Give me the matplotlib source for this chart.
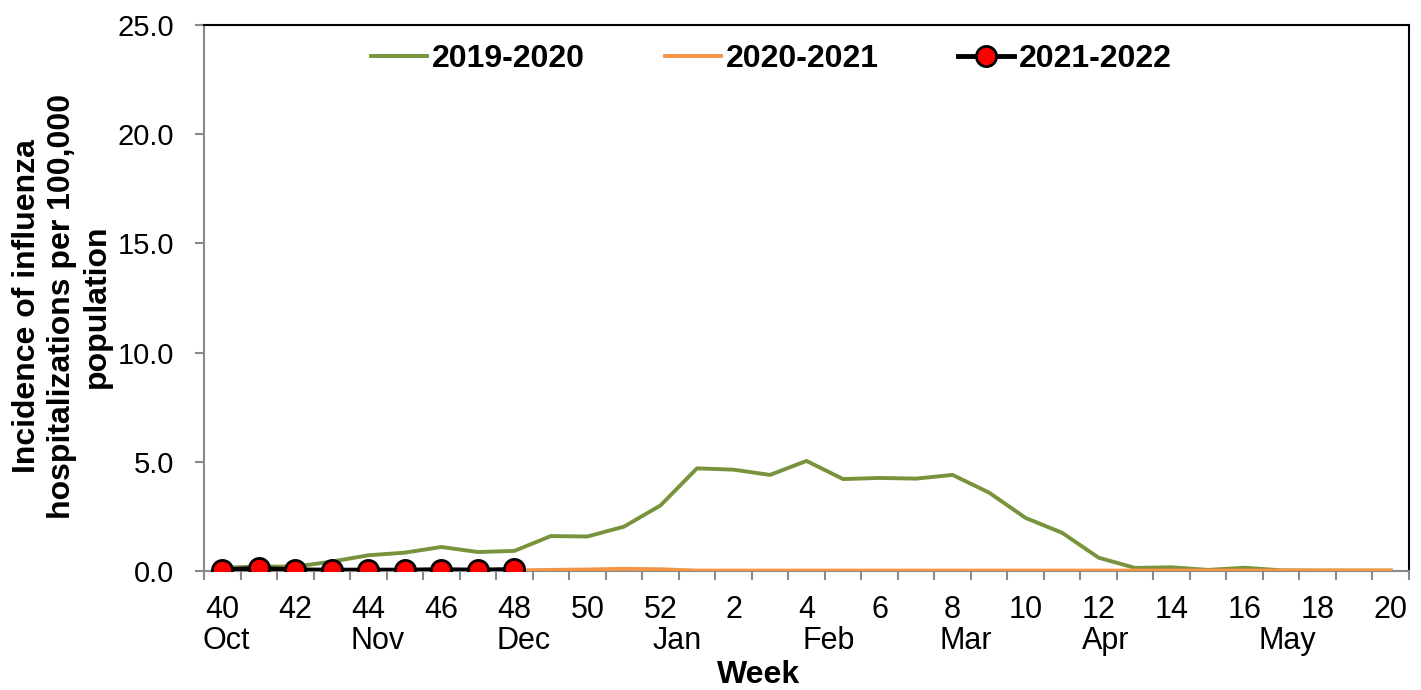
import matplotlib
matplotlib.use("Agg")
import matplotlib.pyplot as plt
import matplotlib.transforms as mtransforms

plt.rcParams['font.family'] = ['Liberation Sans', 'DejaVu Sans']

weeks = [40, 41, 42, 43, 44, 45, 46, 47, 48, 49, 50, 51, 52,
         1, 2, 3, 4, 5, 6, 7, 8, 9, 10, 11, 12, 13, 14, 15, 16, 17, 18, 19, 20]
tick_labels = [str(w) if w % 2 == 0 else "" for w in weeks]

s2019_2020 = [0.15, 0.2, 0.2, 0.43, 0.72, 0.84, 1.1, 0.87, 0.92, 1.6, 1.58, 2.03, 3.0,
              4.7, 4.64, 4.4, 5.04, 4.21, 4.26, 4.23, 4.4, 3.59, 2.43, 1.75, 0.61,
              0.14, 0.17, 0.05, 0.15, 0.03, 0.02, 0.02, 0.02]
s2020_2021 = [0.02, 0.02, 0.02, 0.02, 0.02, 0.02, 0.02, 0.02, 0.03, 0.05, 0.07, 0.1, 0.08,
              0.02, 0.02, 0.02, 0.02, 0.02, 0.02, 0.02, 0.02, 0.02, 0.02, 0.02, 0.02,
              0.02, 0.02, 0.02, 0.02, 0.02, 0.02, 0.02, 0.02]
s2021_2022 = [0.05, 0.12, 0.05, 0.04, 0.04, 0.04, 0.06, 0.04, 0.07]

months = ["Oct", "Nov", "Dec", "Jan", "Feb", "Mar", "Apr", "May"]
month_pos = [0.1, 4.24, 8.24, 12.46, 16.6, 20.35, 24.2, 29.17]

fig = plt.figure(figsize=(14.21, 6.90), dpi=100)
ax = fig.add_axes([204/1421, 1-571/690, (1409-204)/1421, (571-25)/690])

x = list(range(len(weeks)))
ax.plot(x, s2019_2020, color='#77933C', lw=2.8, label='2019-2020', zorder=2)
ax.plot(x, s2020_2021, color='#F79646', lw=2.8, label='2020-2021', zorder=3)
ax.plot(x[:len(s2021_2022)], s2021_2022, color='black', lw=3.5, marker='o',
        markersize=14.5, markerfacecolor='#FF0000', markeredgecolor='black',
        markeredgewidth=2.0, label='2021-2022', zorder=4)

ax.set_xlim(-0.5, len(weeks) - 0.5)
ax.set_ylim(0, 25)
ax.set_yticks([0, 5, 10, 15, 20, 25])
ax.set_yticklabels([f"{v:.1f}" for v in [0, 5, 10, 15, 20, 25]], fontsize=21)
ax.set_xticks(x)
ax.set_xticklabels(tick_labels, fontsize=22)
ax.set_xticks([i - 0.5 for i in range(len(weeks) + 1)], minor=True)
ax.tick_params(axis='x', which='major', length=0, pad=17)
ax.tick_params(axis='x', which='minor', length=6.5, width=1.5, color='#898989', direction='out')
ax.tick_params(axis='y', length=6.5, width=1.5, color='#898989', pad=15)

for side in ['left', 'bottom']:
    ax.spines[side].set_color('#898989')
    ax.spines[side].set_linewidth(1.5)
for side in ['top', 'right']:
    ax.spines[side].set_color('black')
    ax.spines[side].set_linewidth(1.5)

trans = mtransforms.blended_transform_factory(ax.transData, fig.transFigure)
for m, p in zip(months, month_pos):
    ax.text(p, 1 - 641/690, m, transform=trans, ha='center', va='center', fontsize=22)
ax.text(14.7, 1 - 675/690, "Week", transform=trans, ha='center', va='center',
        fontsize=23, fontweight='bold')

fig.text(62/1421, 1 - 306/690, "Incidence of influenza\nhospitalizations per 100,000\npopulation",
         rotation=90, ha='center', va='center', fontsize=23, fontweight='bold',
         linespacing=1.2, multialignment='center')

leg = ax.legend(loc='center', bbox_to_anchor=(0.471, 0.937), ncol=3, frameon=False,
                prop={'size': 23, 'weight': 'bold'}, handlelength=1.75,
                handletextpad=0.15, columnspacing=2.5)

fig.savefig("out.png", dpi=100)
